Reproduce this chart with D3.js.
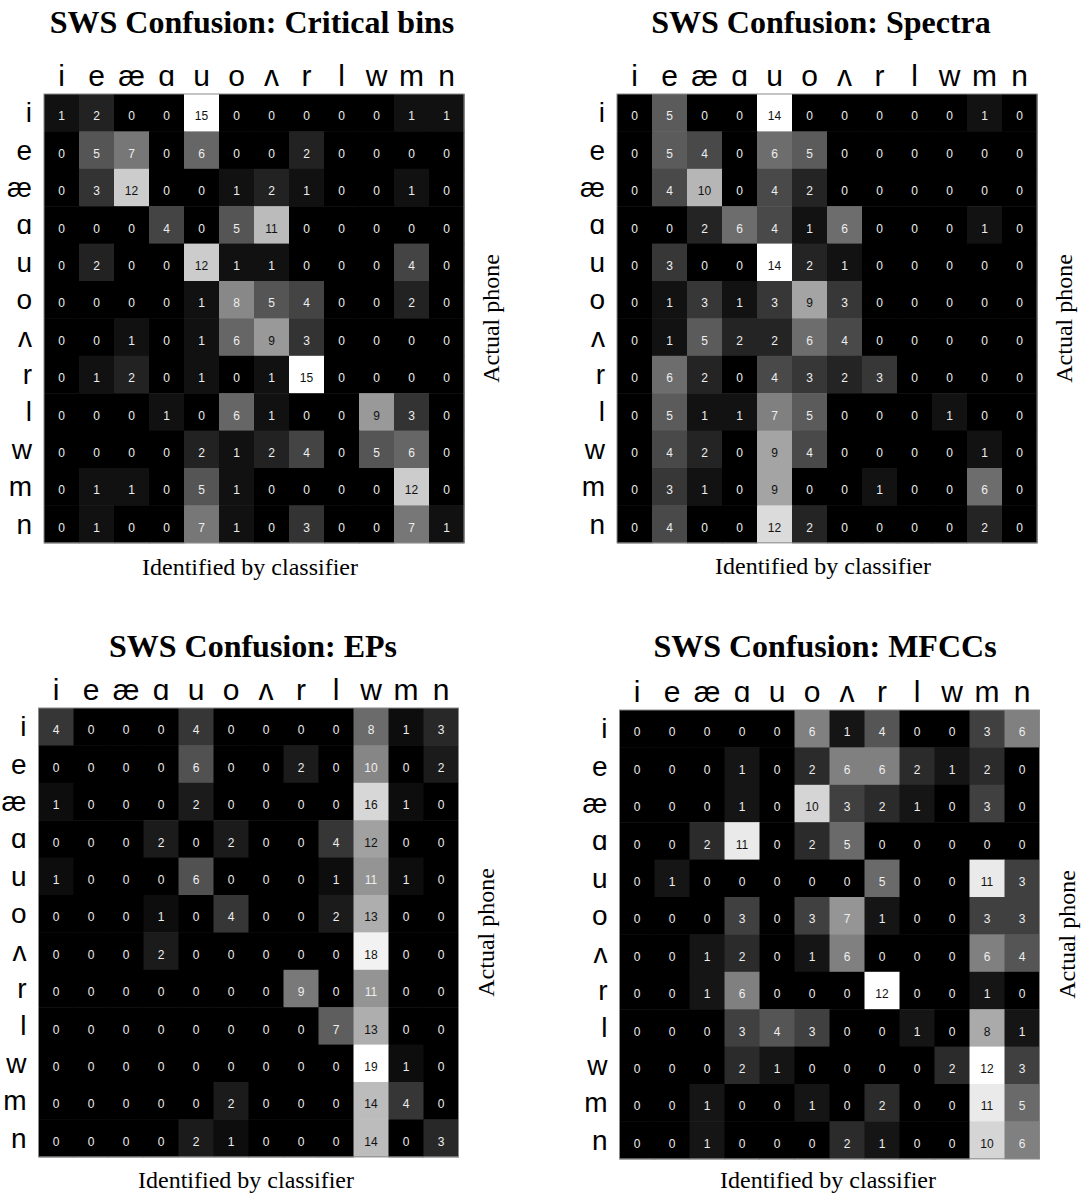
<!DOCTYPE html>
<html>
<head>
<meta charset="utf-8">
<script src="https://cdn.jsdelivr.net/npm/d3@7"></script>
<style>
  html, body { margin: 0; padding: 0; background: #fff; }
  svg { display: block; }
</style>
</head>
<body>
<svg id="chart" width="1086" height="1196"></svg>
<script>
// Phone inventory: rows = actual phone, columns = phone identified by the classifier
const phones = ["i", "e", "æ", "ɑ", "u", "o", "ʌ", "r", "l", "w", "m", "n"];

const titles = [
  "SWS Confusion: Critical bins",
  "SWS Confusion: Spectra",
  "SWS Confusion: EPs",
  "SWS Confusion: MFCCs"
];

const criticalBins = [
  [1, 2, 0, 0, 15, 0, 0, 0, 0, 0, 1, 1],
  [0, 5, 7, 0, 6, 0, 0, 2, 0, 0, 0, 0],
  [0, 3, 12, 0, 0, 1, 2, 1, 0, 0, 1, 0],
  [0, 0, 0, 4, 0, 5, 11, 0, 0, 0, 0, 0],
  [0, 2, 0, 0, 12, 1, 1, 0, 0, 0, 4, 0],
  [0, 0, 0, 0, 1, 8, 5, 4, 0, 0, 2, 0],
  [0, 0, 1, 0, 1, 6, 9, 3, 0, 0, 0, 0],
  [0, 1, 2, 0, 1, 0, 1, 15, 0, 0, 0, 0],
  [0, 0, 0, 1, 0, 6, 1, 0, 0, 9, 3, 0],
  [0, 0, 0, 0, 2, 1, 2, 4, 0, 5, 6, 0],
  [0, 1, 1, 0, 5, 1, 0, 0, 0, 0, 12, 0],
  [0, 1, 0, 0, 7, 1, 0, 3, 0, 0, 7, 1]
];

const spectra = [
  [0, 5, 0, 0, 14, 0, 0, 0, 0, 0, 1, 0],
  [0, 5, 4, 0, 6, 5, 0, 0, 0, 0, 0, 0],
  [0, 4, 10, 0, 4, 2, 0, 0, 0, 0, 0, 0],
  [0, 0, 2, 6, 4, 1, 6, 0, 0, 0, 1, 0],
  [0, 3, 0, 0, 14, 2, 1, 0, 0, 0, 0, 0],
  [0, 1, 3, 1, 3, 9, 3, 0, 0, 0, 0, 0],
  [0, 1, 5, 2, 2, 6, 4, 0, 0, 0, 0, 0],
  [0, 6, 2, 0, 4, 3, 2, 3, 0, 0, 0, 0],
  [0, 5, 1, 1, 7, 5, 0, 0, 0, 1, 0, 0],
  [0, 4, 2, 0, 9, 4, 0, 0, 0, 0, 1, 0],
  [0, 3, 1, 0, 9, 0, 0, 1, 0, 0, 6, 0],
  [0, 4, 0, 0, 12, 2, 0, 0, 0, 0, 2, 0]
];

const eps = [
  [4, 0, 0, 0, 4, 0, 0, 0, 0, 8, 1, 3],
  [0, 0, 0, 0, 6, 0, 0, 2, 0, 10, 0, 2],
  [1, 0, 0, 0, 2, 0, 0, 0, 0, 16, 1, 0],
  [0, 0, 0, 2, 0, 2, 0, 0, 4, 12, 0, 0],
  [1, 0, 0, 0, 6, 0, 0, 0, 1, 11, 1, 0],
  [0, 0, 0, 1, 0, 4, 0, 0, 2, 13, 0, 0],
  [0, 0, 0, 2, 0, 0, 0, 0, 0, 18, 0, 0],
  [0, 0, 0, 0, 0, 0, 0, 9, 0, 11, 0, 0],
  [0, 0, 0, 0, 0, 0, 0, 0, 7, 13, 0, 0],
  [0, 0, 0, 0, 0, 0, 0, 0, 0, 19, 1, 0],
  [0, 0, 0, 0, 0, 2, 0, 0, 0, 14, 4, 0],
  [0, 0, 0, 0, 2, 1, 0, 0, 0, 14, 0, 3]
];

const mfccs = [
  [0, 0, 0, 0, 0, 6, 1, 4, 0, 0, 3, 6],
  [0, 0, 0, 1, 0, 2, 6, 6, 2, 1, 2, 0],
  [0, 0, 0, 1, 0, 10, 3, 2, 1, 0, 3, 0],
  [0, 0, 2, 11, 0, 2, 5, 0, 0, 0, 0, 0],
  [0, 1, 0, 0, 0, 0, 0, 5, 0, 0, 11, 3],
  [0, 0, 0, 3, 0, 3, 7, 1, 0, 0, 3, 3],
  [0, 0, 1, 2, 0, 1, 6, 0, 0, 0, 6, 4],
  [0, 0, 1, 6, 0, 0, 0, 12, 0, 0, 1, 0],
  [0, 0, 0, 3, 4, 3, 0, 0, 1, 0, 8, 1],
  [0, 0, 0, 2, 1, 0, 0, 0, 0, 2, 12, 3],
  [0, 0, 1, 0, 0, 1, 0, 2, 0, 0, 11, 5],
  [0, 0, 1, 0, 0, 0, 2, 1, 0, 0, 10, 6]
];

const matrices = [criticalBins, spectra, eps, mfccs];

// Where each panel's matrix sits on the page, plus its title and axis-label anchors
const layout = [
  { left: 44,    top: 94,  titleX: 252, titleY: 33,  xlabX: 250, xlabY: 575 },
  { left: 617,   top: 94,  titleX: 821, titleY: 33,  xlabX: 823, xlabY: 574 },
  { left: 38.5,  top: 708, titleX: 253, titleY: 657, xlabX: 246, xlabY: 1188 },
  { left: 619.5, top: 710, titleX: 825, titleY: 657, xlabX: 828, xlabY: 1188 }
];

const cellW = 35, cellH = 37.4;
const matW = cellW * phones.length, matH = cellH * phones.length;

const sans = "'Liberation Sans', Arial, 'DejaVu Sans', sans-serif";
const serif = "'Liberation Serif', 'Times New Roman', 'DejaVu Serif', serif";

const svg = d3.select("#chart");
svg.append("rect").attr("width", 1086).attr("height", 1196).attr("fill", "#fff");

matrices.forEach((m, p) => {
  const L = layout[p];
  const g = svg.append("g").attr("transform", `translate(${L.left},${L.top})`);

  const x = d3.scaleBand().domain(phones).range([0, matW]);
  const y = d3.scaleBand().domain(phones).range([0, matH]);
  const vmax = d3.max(m.flat());
  const shade = d3.scaleLinear().domain([0, vmax]).range(["#000", "#fff"]);

  const cells = [];
  m.forEach((row, r) => row.forEach((v, c) => cells.push({ actual: phones[r], ident: phones[c], v })));

  g.selectAll("rect.cell").data(cells).join("rect")
    .attr("class", "cell")
    .attr("x", d => x(d.ident))
    .attr("y", d => y(d.actual))
    .attr("width", x.bandwidth() + 0.5)
    .attr("height", y.bandwidth() + 0.5)
    .attr("fill", d => shade(d.v));

  // Frame around the matrix
  g.append("rect")
    .attr("x", 0).attr("y", 0).attr("width", matW).attr("height", matH)
    .attr("fill", "none").attr("stroke", "#8a8a8a").attr("stroke-width", 1);

  // Counts written in each cell
  g.selectAll("text.count").data(cells).join("text")
    .attr("class", "count")
    .attr("x", d => x(d.ident) + x.bandwidth() / 2)
    .attr("y", d => y(d.actual) + y.bandwidth() / 2 + 7.6)
    .attr("text-anchor", "middle")
    .attr("font-family", sans)
    .attr("font-size", 12)
    .attr("fill", d => d.v / vmax >= 0.59 ? "#111" : "#eee")
    .text(d => d.v);

  // Column labels (identified phone) on top
  g.selectAll("text.col").data(phones).join("text")
    .attr("class", "col")
    .attr("x", d => x(d) + x.bandwidth() / 2)
    .attr("y", -8)
    .attr("text-anchor", "middle")
    .attr("font-family", sans)
    .attr("font-size", 30)
    .attr("fill", "#000")
    .text(d => d);

  // Row labels (actual phone) on the left
  g.selectAll("text.row").data(phones).join("text")
    .attr("class", "row")
    .attr("x", -12)
    .attr("y", d => y(d) + y.bandwidth() / 2 + 9.5)
    .attr("text-anchor", "end")
    .attr("font-family", sans)
    .attr("font-size", 28)
    .attr("fill", "#000")
    .text(d => d);

  // Panel title
  svg.append("text")
    .attr("x", L.titleX).attr("y", L.titleY)
    .attr("text-anchor", "middle")
    .attr("font-family", serif)
    .attr("font-weight", "bold")
    .attr("font-size", 32)
    .attr("fill", "#000")
    .text(titles[p]);

  // Axis titles
  svg.append("text")
    .attr("x", L.xlabX).attr("y", L.xlabY)
    .attr("text-anchor", "middle")
    .attr("font-family", serif)
    .attr("font-size", 24)
    .attr("fill", "#000")
    .text("Identified by classifier");

  svg.append("text")
    .attr("transform", `translate(${L.left + matW + 35},${L.top + matH / 2}) rotate(-90)`)
    .attr("text-anchor", "middle")
    .attr("font-family", serif)
    .attr("font-size", 24)
    .attr("fill", "#000")
    .text("Actual phone");
});
</script>
</body>
</html>
